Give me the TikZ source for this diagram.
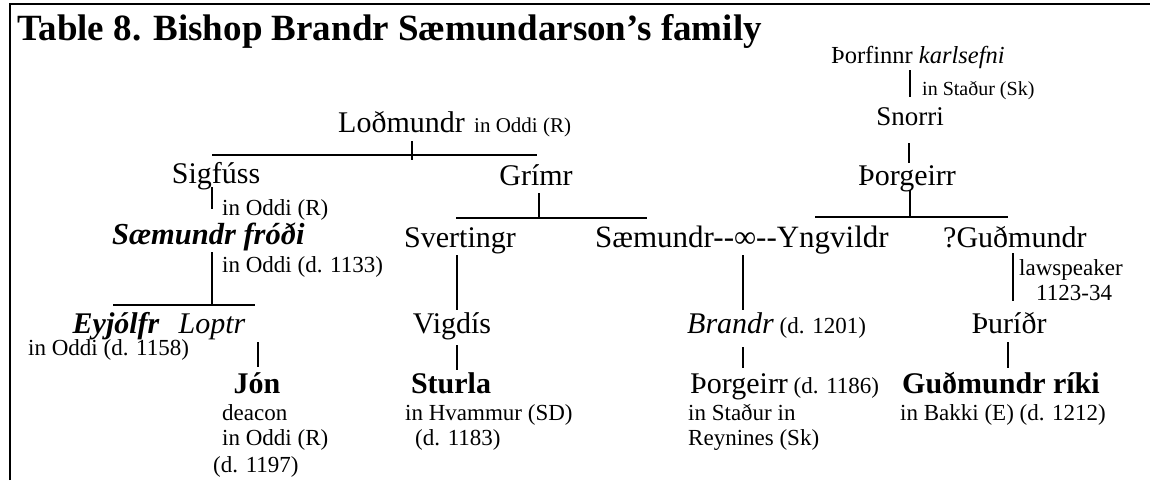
\documentclass[tikz,border=0pt]{standalone}
\usepackage{fontspec}
\setmainfont{Liberation Serif}
\begin{document}
\begin{tikzpicture}[x=1pt,y=-1pt,
  nm/.style={inner sep=0pt, font=\fontsize{30}{32}\selectfont},
  sm/.style={inner sep=0pt, font=\fontsize{23}{25}\selectfont},
  ttl/.style={inner sep=0pt, font=\fontsize{37}{40}\selectfont\bfseries},
  ln/.style={line width=1.9pt, line cap=butt}]
\useasboundingbox (0,0) rectangle (1150,480);
% frame
\coordinate (fbl) at (10,480);
\coordinate (ftl) at (10,4);
\coordinate (ftr) at (1150,4);
\draw[ln] (fbl) -- (ftl) -- (ftr);
% title
\node[ttl, anchor=base west] (title) at (17,40) {Table 8. Bishop Brandr Sæmundarson's family};
% right branch top
\node[inner sep=0pt, font=\fontsize{24.5}{27}\selectfont, anchor=base west] (thorf) at (831,63) {Þorfinnr \textit{karlsefni}};
\coordinate (tA) at (910,70); \coordinate (tB) at (910,97);
\draw[ln] (tA) -- (tB);
\node[sm, font=\fontsize{20}{22}\selectfont, anchor=base west] (thorfL) at (922,95) {in Staður (Sk)};
\node[nm, font=\fontsize{27}{29}\selectfont, anchor=base] (snorri) at (910,125) {Snorri};
\coordinate (sA) at (909,143); \coordinate (sB) at (909,163);
\draw[ln] (sA) -- (sB);
\node[nm, anchor=base] (thorg1) at (907,185) {Þorgeirr};
\coordinate (gA) at (910,190); \coordinate (gB) at (910,217);
\coordinate (gL) at (815,217); \coordinate (gR) at (1008,217);
\draw[ln] (gA) -- (gB); \draw[ln] (gL) -- (gR);
% Lodmundr
\node[nm, anchor=base west] (lod) at (338,132) {Loðmundr};
\node[sm, font=\fontsize{21}{23}\selectfont, anchor=base west] (lodL) at (474,132) {in Oddi (R)};
\coordinate (lA) at (412,141); \coordinate (lB) at (412,160);
\coordinate (lL) at (212,155); \coordinate (lR) at (537,155);
\draw[ln] (lA) -- (lB); \draw[ln] (lL) -- (lR);
% Sigfuss
\node[nm, anchor=base] (sig) at (216,183) {Sigfúss};
\coordinate (sgA) at (212,187); \coordinate (sgB) at (212,209);
\draw[ln] (sgA) -- (sgB);
\node[sm, anchor=base west] (sigL) at (222,215) {in Oddi (R)};
% Grimr
\node[nm, anchor=base] (grim) at (536,185) {Grímr};
\coordinate (grA) at (539,193); \coordinate (grB) at (539,219);
\coordinate (grL) at (456,218); \coordinate (grR) at (647,218);
\draw[ln] (grA) -- (grB); \draw[ln] (grL) -- (grR);
% row 3
\node[nm, anchor=base west, font=\fontsize{30.5}{32}\selectfont\bfseries\itshape] (saemf) at (112,244) {Sæmundr fróði};
\coordinate (sfA) at (212,252); \coordinate (sfB) at (212,305);
\coordinate (sfL) at (113,305); \coordinate (sfR) at (255,305);
\draw[ln] (sfA) -- (sfB); \draw[ln] (sfL) -- (sfR);
\node[sm, anchor=base west] (saemfL) at (222,272) {in Oddi (d. 1133)};
\node[nm, anchor=base] (svert) at (460,247) {Svertingr};
\coordinate (svA) at (457,255); \coordinate (svB) at (457,310);
\draw[ln] (svA) -- (svB);
\node[nm, font=\fontsize{31}{33}\selectfont, anchor=base west] (marr) at (595,247) {Sæmundr-{}-∞-{}-Yngvildr};
\coordinate (mA) at (743,255); \coordinate (mB) at (743,310);
\draw[ln] (mA) -- (mB);
\node[nm, anchor=base west] (gud) at (943,247) {?Guðmundr};
\coordinate (guA) at (1013,253); \coordinate (guB) at (1013,301);
\draw[ln] (guA) -- (guB);
\node[sm, anchor=base west] (gudL1) at (1019,275) {lawspeaker};
\node[sm, anchor=base west] (gudL2) at (1036,300) {1123-34};
% row 4
\node[nm, anchor=base, font=\fontsize{30}{32}\selectfont\bfseries\itshape] (eyj) at (116,333) {Eyjólfr};
\node[sm, anchor=base west] (eyjL) at (28,355) {in Oddi (d. 1158)};
\node[nm, anchor=base, font=\fontsize{30}{32}\selectfont\itshape] (loptr) at (212,333) {Loptr};
\coordinate (loA) at (258,342); \coordinate (loB) at (258,367);
\draw[ln] (loA) -- (loB);
\node[nm, anchor=base] (vig) at (452,333) {Vigdís};
\coordinate (viA) at (457,345); \coordinate (viB) at (457,370);
\draw[ln] (viA) -- (viB);
\node[nm, anchor=base west] (brandr) at (687,333) {\textit{Brandr}\fontsize{23}{25}\selectfont{} (d. 1201)};
\coordinate (brA) at (743,347); \coordinate (brB) at (743,368);
\draw[ln] (brA) -- (brB);
\node[nm, anchor=base] (thur) at (1009,333) {Þuríðr};
\coordinate (thA) at (1008,342); \coordinate (thB) at (1008,368);
\draw[ln] (thA) -- (thB);
% row 5
\node[nm, anchor=base, font=\fontsize{30}{32}\selectfont\bfseries] (jon) at (257,393) {Jón};
\node[sm, anchor=base west] (jonL1) at (222,420) {deacon};
\node[sm, anchor=base west] (jonL2) at (222,445) {in Oddi (R)};
\node[sm, anchor=base west] (jonL3) at (213,472) {(d. 1197)};
\node[nm, anchor=base, font=\fontsize{30}{32}\selectfont\bfseries] (sturla) at (451,393) {Sturla};
\node[sm, anchor=base west] (sturL1) at (405,420) {in Hvammur (SD)};
\node[sm, anchor=base west] (sturL2) at (415,445) {(d. 1183)};
\node[nm, anchor=base west] (thorg2) at (690,393) {Þorgeirr\fontsize{23}{25}\selectfont{} (d. 1186)};
\node[sm, anchor=base west] (thorgL1) at (688,420) {in Staður in};
\node[sm, anchor=base west] (thorgL2) at (688,445) {Reynines (Sk)};
\node[nm, anchor=base west, font=\fontsize{30}{32}\selectfont\bfseries] (gudr) at (902,393) {Guðmundr ríki};
\node[sm, anchor=base west] (gudrL) at (900,420) {in Bakki (E) (d. 1212)};
\end{tikzpicture}
\end{document}
